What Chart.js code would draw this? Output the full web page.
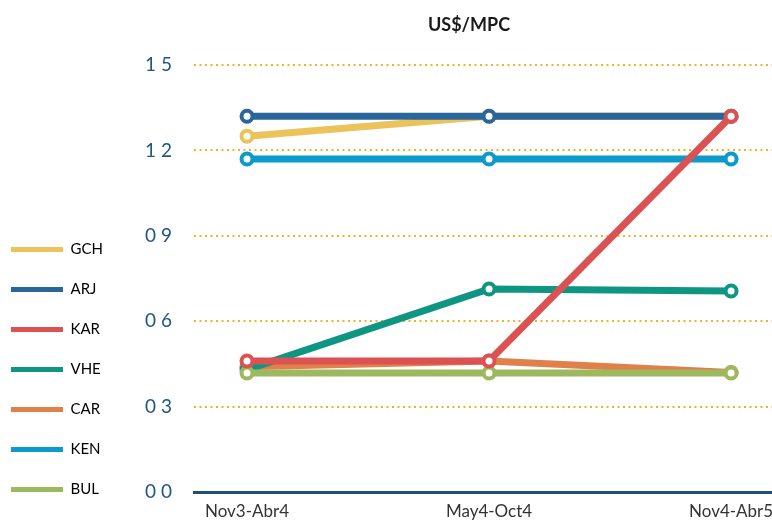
<!DOCTYPE html>
<html><head><meta charset="utf-8">
<script src="https://cdn.jsdelivr.net/npm/chart.js@4"></script>
<style>html,body{margin:0;padding:0;background:#fff}#wrap{width:772px;height:524px}</style>
</head><body><div id="wrap"><canvas id="c" width="772" height="524"></canvas></div>
<script>
const titleText = 'US$/MPC';
const categories = ['Nov3-Abr4', 'May4-Oct4', 'Nov4-Abr5'];
const seriesNames = ['GCH', 'ARJ', 'KAR', 'VHE', 'CAR', 'KEN', 'BUL'];
const GCH = [1.25, 1.32, 1.32];
const ARJ = [1.32, 1.32, 1.32];
const KAR = [0.46, 0.46, 1.32];
const VHE = [0.43, 0.713, 0.706];
const CAR = [0.44, 0.46, 0.42];
const KEN = [1.17, 1.17, 1.17];
const BUL = [0.418, 0.418, 0.418];
const yTickLabels = ['0 0', '0 3', '0 6', '0 9', '1 2', '1 5'];

const seriesValues = [GCH, ARJ, KAR, VHE, CAR, KEN, BUL];
const seriesColors = ['#ecc25a', '#2a6699', '#dc5252', '#0e9682', '#e0804a', '#0a9acb', '#9db85e'];
const drawOrder = [3, 2, 0, 4, 5, 6, 1];
const FONT = 'Lato';

const datasets = seriesNames.map((name, i) => ({
  label: name,
  data: seriesValues[i].map((v, j) => ({x: j, y: v})),
  borderColor: seriesColors[i],
  backgroundColor: seriesColors[i],
  borderWidth: 7,
  pointRadius: 5.5,
  pointHoverRadius: 5.5,
  pointBorderWidth: 4,
  pointBackgroundColor: '#ffffff',
  pointBorderColor: seriesColors[i],
  fill: false,
  tension: 0,
  clip: false,
  order: drawOrder[i]
}));

const titlePlugin = {
  id: 'titleText',
  afterDraw(chart) {
    const ctx = chart.ctx;
    ctx.save();
    ctx.font = 'bold 18px ' + FONT;
    ctx.fillStyle = '#1a1a1a';
    ctx.textAlign = 'center';
    ctx.textBaseline = 'middle';
    ctx.fillText(titleText, 469, 25);
    ctx.restore();
  }
};

new Chart(document.getElementById('c'), {
  type: 'line',
  data: {datasets},
  plugins: [titlePlugin],
  options: {
    responsive: false,
    devicePixelRatio: 1,
    animation: false,
    layout: {autoPadding: false, padding: {left: -14, right: 0, top: 65, bottom: 2}},
    plugins: {
      title: {display: false},
      tooltip: {enabled: false},
      legend: {
        position: 'left',
        align: 'end',
        maxWidth: 120,
        labels: {
          boxWidth: 52,
          boxHeight: 5,
          padding: 25,
          color: '#555555',
          font: {family: FONT, size: 15},
          generateLabels(chart) {
            return chart.data.datasets.map((ds, i) => ({
              text: ds.label,
              fillStyle: ds.borderColor,
              strokeStyle: 'rgba(0,0,0,0)',
              lineWidth: 0,
              hidden: false,
              datasetIndex: i
            }));
          }
        }
      }
    },
    scales: {
      x: {
        type: 'linear',
        min: -0.219,
        max: 2.169,
        afterBuildTicks(scale) {
          scale.ticks = categories.map((c, i) => ({value: i}));
        },
        afterFit(scale) { scale.height = 30; scale.paddingLeft = 0; scale.paddingRight = 0; },
        grid: {display: false, drawTicks: false},
        border: {display: true, color: '#1f4e79', width: 3},
        ticks: {
          padding: 9,
          color: '#333333',
          font: {family: FONT, size: 17},
          maxRotation: 0,
          autoSkip: false,
          callback: (v) => categories[v]
        }
      },
      y: {
        min: 0,
        max: 1.5,
        afterFit(scale) { scale.width = 88; scale.paddingTop = 0; scale.paddingBottom = 0; },
        ticks: {
          stepSize: 0.3,
          padding: 22,
          color: '#1f5488',
          font: {family: FONT, size: 19},
          callback: (v, i) => yTickLabels[i]
        },
        grid: {
          drawTicks: false,
          lineWidth: 2,
          color: (ctx) => ctx.index === 0 ? 'rgba(0,0,0,0)' : '#f0b323'
        },
        border: {display: false, dash: [2, 3.5]}
      }
    }
  }
});
</script></body></html>
